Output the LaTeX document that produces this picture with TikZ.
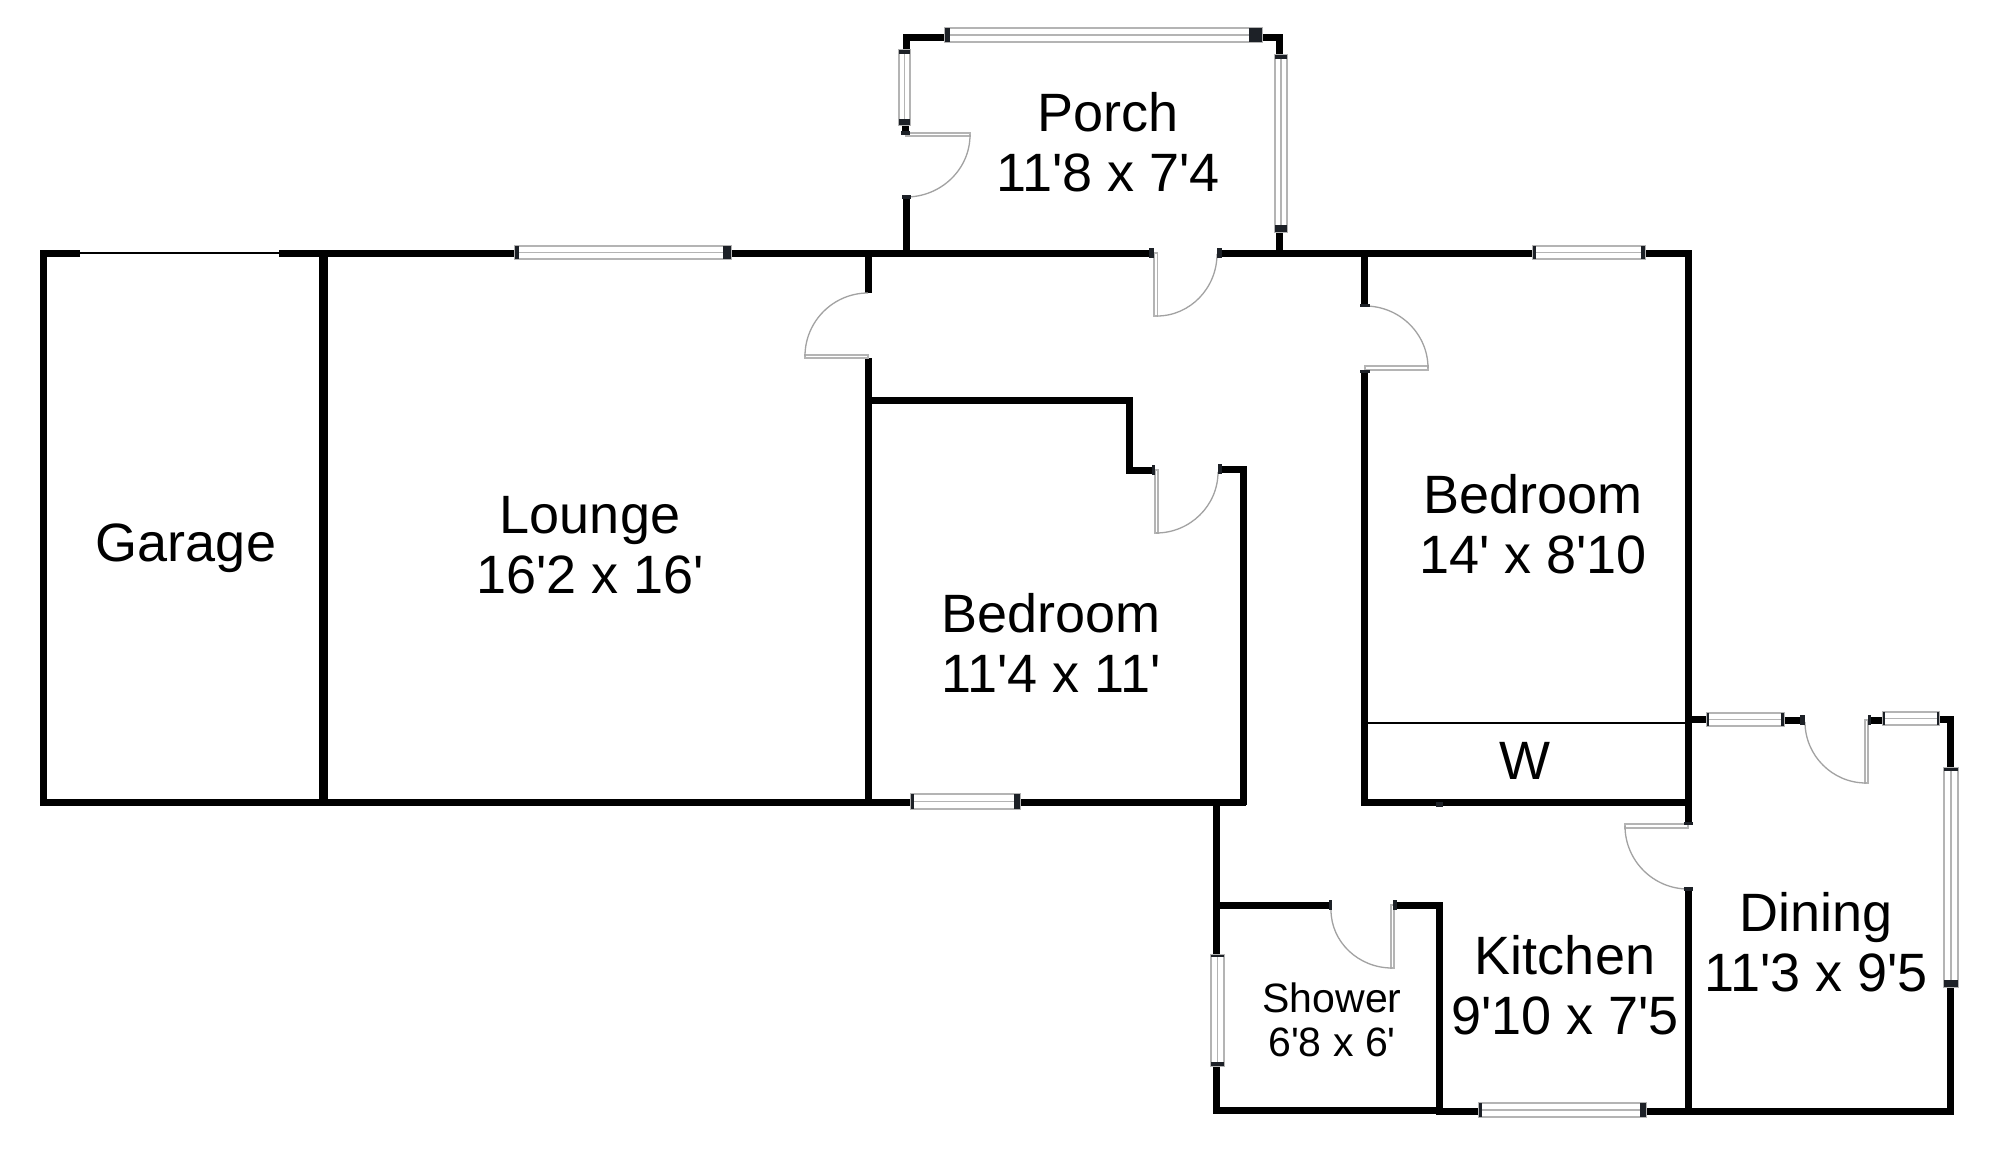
\documentclass[tikz,border=0pt]{standalone}
\usepackage{fontspec}
\newfontfamily\planfont{Liberation Sans}
\definecolor{capdark}{HTML}{1D2127}
\definecolor{glass}{HTML}{B4B4B4}
\tikzset{
  wall/.style={draw=black,line width=7pt,line cap=butt,line join=miter},
  thickwall/.style={wall,line width=9pt},
  thinwall/.style={draw=black,line width=1.6pt},
  glasspane/.style={draw=glass,fill=white,line width=1.3pt},
  glassline/.style={draw=glass,line width=1.1pt},
  sashcap/.style={fill=capdark,draw=none},
  doorpanel/.style={draw=glass,fill=white,line width=1.2pt},
  swing/.style={draw=glass!90!black,line width=1.3pt},
  roomlabel/.style={font=\planfont\fontsize{54}{60}\selectfont,align=center,inner sep=0pt,anchor=center,text=black},
  smalllabel/.style={font=\planfont\fontsize{41}{44}\selectfont,align=center,inner sep=0pt,anchor=center,text=black}
}
% horizontal window: x1 x2 ytop ybottom capleft capright
\newcommand{\planwinh}[6]{%
  \draw[glasspane] (#1,#3) rectangle (#2,#4);
  \draw[glassline] (#1,{(#3+#4)/2}) -- (#2,{(#3+#4)/2});
  \fill[sashcap] (#1,#3) rectangle ({#1+#5},#4);
  \fill[sashcap] ({#2-#6},#3) rectangle (#2,#4);
}
% vertical window: xleft xright y1 y2 captop capbottom
\newcommand{\planwinv}[6]{%
  \draw[glasspane] (#1,#3) rectangle (#2,#4);
  \draw[glassline] ({(#1+#2)/2},#3) -- ({(#1+#2)/2},#4);
  \fill[sashcap] (#1,#3) rectangle (#2,{#3+#5});
  \fill[sashcap] (#1,{#4-#6}) rectangle (#2,#4);
}
% door leaf rectangle
\newcommand{\planleaf}[4]{\draw[doorpanel] (#1,#2) rectangle (#3,#4);}
% door swing: A, corner C, B
\newcommand{\planswing}[6]{%
  \draw[swing] (#1,#2) .. controls ({#1+.55*(#3-#1)},{#2+.55*(#4-#2)}) and ({#5+.55*(#3-#5)},{#6+.55*(#4-#6)}) .. (#5,#6);
}
\newcommand{\plancap}[4]{\fill[sashcap] (#1,#2) rectangle (#3,#4);}
\begin{document}
\begin{tikzpicture}[x=1pt,y=-1pt]
\useasboundingbox (0,0) rectangle (2000,1154);
\fill[white] (0,0) rectangle (2000,1154);

% --- walls ---
\draw[wall] (80,253) -- (43.5,253) -- (43.5,802) -- (911,802);
\draw[wall] (1020,802) -- (1246,802);
\draw[thinwall] (80,253) -- (279,253);
\draw[wall] (279,253) -- (515,253);
\draw[wall] (731,253) -- (1150,253);
\draw[wall] (1221,253) -- (1533,253);
\draw[wall] (1645,253) -- (1688,253) -- (1688,823);
\draw[wall] (1688,889) -- (1688,1111);
\draw[thickwall] (323.5,253) -- (323.5,805);
\draw[wall] (868,253) -- (868,293);
\draw[wall] (868,358) -- (868,805);
\draw[wall] (868,400) -- (1129,400) -- (1129,470) -- (1155,470);
\draw[wall] (1222,469) -- (1243,469) -- (1243,805);
\draw[wall] (906,253) -- (906,197);
\draw[wall] (905,133) -- (905,125);
\draw[wall] (945,37) -- (906,37) -- (906,50);
\draw[wall] (1262,37) -- (1279,37) -- (1279,58);
\draw[wall] (1279,232) -- (1279,253);
\draw[wall] (1364,253) -- (1364,305);
\draw[wall] (1364,372) -- (1364,805);
\draw[wall] (1361,802) -- (1688,802);
\draw[thinwall] (1366,723) -- (1685,723);
\draw[wall] (1216,802) -- (1216,955);
\draw[wall] (1216,1066) -- (1216,1110) -- (1439,1110);
\draw[wall] (1216,905) -- (1329,905);
\draw[wall] (1397,905) -- (1439,905) -- (1439,1114);
\draw[wall] (1436,1111) -- (1479,1111);
\draw[wall] (1646,1111) -- (1953.5,1111);
\draw[wall] (1950,1114) -- (1950,987);
\draw[wall] (1950,768) -- (1950,719) -- (1939,719);
\draw[wall] (1883,720) -- (1868,720);
\draw[wall] (1805,720) -- (1784,720);
\draw[wall] (1707,719) -- (1688,719);

% --- windows ---
\planwinh{945}{1262}{28}{42}{5}{13}
\planwinv{1275}{1287}{55}{232}{4}{7}
\planwinv{899}{910}{50}{125}{4}{6}
\planwinh{515}{731}{246}{259}{4}{8}
\planwinh{1533}{1645}{246}{259}{3}{4}
\planwinh{911}{1020}{794}{809}{3}{6}
\planwinv{1211}{1224}{955}{1066}{2}{4}
\planwinh{1479}{1646}{1103}{1117}{3}{6}
\planwinv{1944}{1958}{768}{987}{3}{7}
\planwinh{1883}{1939}{712}{725}{2}{2}
\planwinh{1707}{1784}{713}{726}{2}{3}

% --- doors ---
\planleaf{906}{133}{970}{136}\planswing{970}{135}{970}{197}{906}{197}
\planleaf{1154}{253}{1157.5}{316}\planswing{1157}{316}{1217}{316}{1217}{254}
\planleaf{805}{355}{868}{358}\planswing{805}{356}{805}{293}{868}{293}
\planleaf{1365}{366}{1428}{370}\planswing{1428}{368}{1428}{306}{1365}{306}
\planleaf{1155}{470}{1158}{533}\planswing{1156}{533}{1218}{533}{1218}{472}
\planleaf{1391}{905}{1394}{968}\planswing{1392}{968}{1331}{968}{1331}{910}
\planleaf{1865}{720}{1868}{783}\planswing{1866}{783}{1805}{783}{1805}{722}
\planleaf{1625}{824}{1688}{828}\planswing{1625}{826}{1625}{889}{1688}{889}

% --- door jamb caps ---
\plancap{902}{195}{911}{199}
\plancap{901}{131}{910}{135}
\plancap{1149}{248}{1154}{258}
\plancap{1217}{248}{1222}{258}
\plancap{1360}{304}{1370}{307}
\plancap{1360}{370}{1370}{373}
\plancap{1152}{465}{1155}{475}
\plancap{1218}{464}{1222}{474}
\plancap{1329}{900}{1332}{910}
\plancap{1393}{900}{1397}{910}
\plancap{1800}{715}{1805}{725}
\plancap{1868}{715}{1871}{725}
\plancap{1684}{822}{1693}{825}
\plancap{1684}{887}{1693}{891}
\plancap{1436}{802}{1443}{807}

% --- labels ---
\node[roomlabel] (porch) at (1108,142) {Porch\\11'8 x 7'4};
\node[roomlabel] (garage) at (186,548) {Garage};
\node[roomlabel] (lounge) at (590,545) {Lounge\\16'2 x 16'};
\node[roomlabel] (bedroomA) at (1051,642.5) {Bedroom\\11'4 x 11'};
\node[roomlabel] (bedroomB) at (1533,524) {Bedroom\\14' x 8'10};
\node[roomlabel] (closet) at (1525,761) {W};
\node[roomlabel] (kitchen) at (1565,985) {Kitchen\\9'10 x 7'5};
\node[roomlabel] (dining) at (1816,942) {Dining\\11'3 x 9'5};
\node[smalllabel] (shower) at (1332,1020) {Shower\\6'8 x 6'};
\end{tikzpicture}
\end{document}
